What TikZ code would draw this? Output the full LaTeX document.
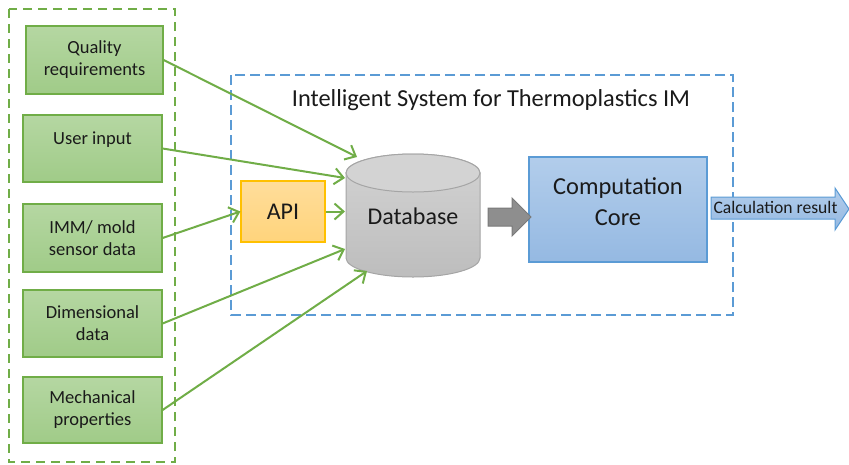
\documentclass[tikz,border=0pt]{standalone}
\usepackage{fontspec}
\setmainfont{Carlito}
\usetikzlibrary{arrows.meta}

\definecolor{grnline}{HTML}{70AD47}
\definecolor{grntop}{HTML}{B5D7A2}
\definecolor{grnbot}{HTML}{A0CB88}
\definecolor{bluline}{HTML}{5B9BD5}
\definecolor{blutop}{HTML}{B2CDEB}
\definecolor{blubot}{HTML}{95B9E2}
\definecolor{apiline}{HTML}{FFC000}
\definecolor{apitop}{HTML}{FFDD9A}
\definecolor{apibot}{HTML}{FFD47C}
\definecolor{dbline}{HTML}{A5A5A5}
\definecolor{dbtop}{HTML}{D3D3D3}
\definecolor{dbbot}{HTML}{BDBDBD}
\definecolor{arrfill}{HTML}{8E8E8E}
\definecolor{arrline}{HTML}{7A7A7A}
\definecolor{txt}{HTML}{1A1A1A}

\tikzset{
  inbox/.style={draw=grnline, line width=1.2pt, top color=grntop, bottom color=grnbot,
    minimum width=139pt, inner sep=0pt, align=center, text=txt,
    font=\fontsize{18.5}{22}\selectfont},
  feed/.style={draw=grnline, line width=2pt, -{Straight Barb[length=9pt,width=16pt,line width=2pt]}},
  groupbox/.style={dash pattern=on 9pt off 6pt, line width=2pt},
}

\begin{document}
\begin{tikzpicture}[x=1pt,y=-1pt]
\useasboundingbox (0,0) rectangle (849,464);

% input group frame
\draw[groupbox, draw=grnline] (9,9) rectangle (175,462);
% system frame
\draw[groupbox, draw=bluline, dash pattern=on 10pt off 5pt] (231,75) rectangle (733,315);
\node[text=txt, font=\fontsize{24.4}{28}\selectfont] (title) at (491,100) {Intelligent System for Thermoplastics IM};

% input sources
\node[inbox, minimum width=137pt, minimum height=68pt] (qual) at (94.5,60) {Quality\\requirements};
\node[inbox, minimum height=67pt] (user) at (92.5,148.5) {};
\node[text=txt, font=\fontsize{18.5}{22}\selectfont] (userlbl) at (92.5,140) {User input};
\node[inbox, minimum height=68pt] (imm) at (92.5,238) {IMM/ mold\\sensor data};
\node[inbox, minimum height=67pt] (dim) at (92.5,323.5) {Dimensional\\data};
\node[inbox, minimum height=66pt] (mech) at (92.5,410) {Mechanical\\properties};

% API
\node[draw=apiline, line width=1.2pt, top color=apitop, bottom color=apibot,
  minimum width=84pt, minimum height=61pt, inner sep=0pt, text=txt,
  font=\fontsize{24}{28}\selectfont] (api) at (283,211.5) {API};

% database cylinder
\path[draw=dbline, line width=1pt, top color=dbtop, bottom color=dbbot]
  (346,173) -- (346,258) arc (180:0:67 and 19) -- (480,173) arc (0:-180:67 and 19) -- cycle;
\draw[dbline, line width=1pt, fill=dbtop] (413,173) ellipse (67 and 19);
\node[text=txt, font=\fontsize{24}{28}\selectfont] (db) at (413,216.5) {Database};
\coordinate (dbA) at (357,157);
\coordinate (dbB) at (345,178);
\coordinate (dbC) at (345,211.5);
\coordinate (dbD) at (345,249);
\coordinate (dbE) at (367,271);

% computation core
\node[draw=bluline, line width=1.2pt, top color=blutop, bottom color=blubot,
  minimum width=178pt, minimum height=105pt, inner sep=0pt] (core) at (618,209.5) {};
\node[text=txt, align=center, font=\fontsize{24.4}{31}\selectfont] (corelbl) at (618,201.5) {Computation\\Core};

% block arrow from database to core
\draw[arrline, line width=1pt, fill=arrfill]
  (488,208) -- (512,208) -- (512,198) -- (531,217) -- (512,236) -- (512,226) -- (488,226) -- cycle;

% output arrow
\draw[bluline, line width=1pt, top color=blutop, bottom color=blubot]
  (711,197) -- (835,197) -- (835,188) -- (849,209) -- (835,230) -- (835,219) -- (711,219) -- cycle;
\node[text=txt, font=\fontsize{17.6}{20}\selectfont, inner sep=0pt] (res) at (775.5,207.5) {Calculation result};

% data feeds
\draw[feed] (qual.east) -- (dbA);
\draw[feed] (user.east) -- (dbB);
\draw[feed] (imm.east) -- (api.west);
\draw[feed] (api.east) -- (dbC);
\draw[feed] (dim.east) -- (dbD);
\draw[feed] (mech.east) -- (dbE);
\end{tikzpicture}
\end{document}
